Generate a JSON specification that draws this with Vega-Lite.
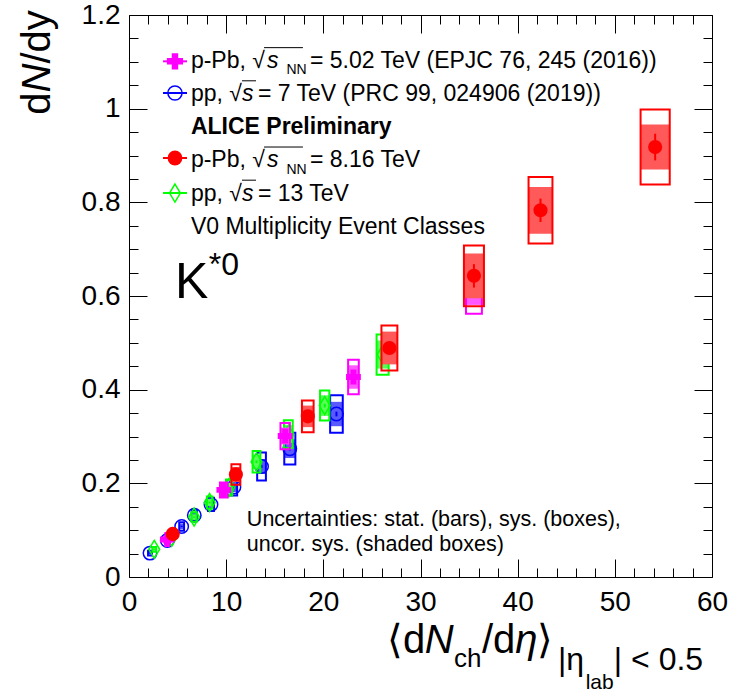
{
"$schema":"https://vega.github.io/schema/vega-lite/v6.json",
"width":583,"height":562,
"autosize":{"type":"none"},
"padding":{"left":129,"top":15,"right":25,"bottom":118},
"config":{"view":{"stroke":null},"axis":{"grid":false}},
"datasets":{
"one":[{}],
"pts":[
{"s":"pp7","x":2.16,"y":0.051,"xl":1.96,"xh":2.36,"sl":0.046,"sh":0.056,"ul":0.048,"uh":0.054,"el":0.050,"eh":0.052},
{"s":"pp7","x":3.94,"y":0.078,"xl":3.72,"xh":4.16,"sl":0.071,"sh":0.085,"ul":0.074,"uh":0.082,"el":0.077,"eh":0.079},
{"s":"pp7","x":5.42,"y":0.108,"xl":5.17,"xh":5.67,"sl":0.099,"sh":0.117,"ul":0.102,"uh":0.114,"el":0.1065,"eh":0.1095},
{"s":"pp7","x":6.72,"y":0.132,"xl":6.45,"xh":6.99,"sl":0.121,"sh":0.143,"ul":0.125,"uh":0.139,"el":0.130,"eh":0.134},
{"s":"pp7","x":8.44,"y":0.155,"xl":8.14,"xh":8.74,"sl":0.141,"sh":0.169,"ul":0.146,"uh":0.164,"el":0.153,"eh":0.157},
{"s":"pp7","x":10.8,"y":0.192,"xl":10.47,"xh":11.13,"sl":0.174,"sh":0.210,"ul":0.181,"uh":0.203,"el":0.189,"eh":0.195},
{"s":"pp7","x":13.64,"y":0.236,"xl":13.19,"xh":14.09,"sl":0.206,"sh":0.266,"ul":0.220,"uh":0.252,"el":0.233,"eh":0.239},
{"s":"pp7","x":16.55,"y":0.274,"xl":15.98,"xh":17.12,"sl":0.240,"sh":0.308,"ul":0.254,"uh":0.294,"el":0.270,"eh":0.278},
{"s":"pp7","x":21.35,"y":0.348,"xl":20.70,"xh":22.00,"sl":0.308,"sh":0.388,"ul":0.322,"uh":0.374,"el":0.343,"eh":0.353},
{"s":"pp13","x":2.6,"y":0.059,"xl":2.4,"xh":2.8,"sl":0.054,"sh":0.064,"ul":0.056,"uh":0.062,"el":0.058,"eh":0.060},
{"s":"pp13","x":4.4,"y":0.085,"xl":4.18,"xh":4.62,"sl":0.078,"sh":0.092,"ul":0.081,"uh":0.089,"el":0.084,"eh":0.086},
{"s":"pp13","x":6.7,"y":0.128,"xl":6.45,"xh":6.95,"sl":0.118,"sh":0.138,"ul":0.122,"uh":0.134,"el":0.1265,"eh":0.1295},
{"s":"pp13","x":8.3,"y":0.159,"xl":8.02,"xh":8.58,"sl":0.146,"sh":0.172,"ul":0.151,"uh":0.167,"el":0.157,"eh":0.161},
{"s":"pp13","x":10.3,"y":0.191,"xl":9.98,"xh":10.62,"sl":0.174,"sh":0.208,"ul":0.181,"uh":0.201,"el":0.189,"eh":0.193},
{"s":"pp13","x":13.12,"y":0.246,"xl":12.72,"xh":13.52,"sl":0.223,"sh":0.269,"ul":0.231,"uh":0.261,"el":0.243,"eh":0.249},
{"s":"pp13","x":16.4,"y":0.305,"xl":15.95,"xh":16.85,"sl":0.2755,"sh":0.3345,"ul":0.286,"uh":0.324,"el":0.302,"eh":0.308},
{"s":"pp13","x":20.14,"y":0.366,"xl":19.66,"xh":20.62,"sl":0.334,"sh":0.398,"ul":0.344,"uh":0.388,"el":0.362,"eh":0.370},
{"s":"pp13","x":26.1,"y":0.475,"xl":25.48,"xh":26.72,"sl":0.432,"sh":0.518,"ul":0.445,"uh":0.505,"el":0.469,"eh":0.481},
{"s":"pPb502","x":3.95,"y":0.080,"xl":3.65,"xh":4.25,"sl":0.073,"sh":0.087,"ul":0.076,"uh":0.084,"el":0.0785,"eh":0.0815},
{"s":"pPb502","x":9.76,"y":0.186,"xl":9.36,"xh":10.16,"sl":0.170,"sh":0.202,"ul":0.176,"uh":0.196,"el":0.183,"eh":0.189},
{"s":"pPb502","x":16.07,"y":0.301,"xl":15.59,"xh":16.55,"sl":0.273,"sh":0.329,"ul":0.283,"uh":0.319,"el":0.297,"eh":0.305},
{"s":"pPb502","x":23.1,"y":0.427,"xl":22.55,"xh":23.65,"sl":0.390,"sh":0.464,"ul":0.402,"uh":0.452,"el":0.421,"eh":0.433},
{"s":"pPb502","x":35.5,"y":0.616,"xl":34.68,"xh":36.32,"sl":0.562,"sh":0.670,"ul":0.581,"uh":0.651,"el":0.606,"eh":0.626},
{"s":"pPb816","x":4.5,"y":0.092,"xl":4.15,"xh":4.85,"sl":0.084,"sh":0.100,"ul":0.087,"uh":0.097,"el":0.089,"eh":0.095},
{"s":"pPb816","x":11.0,"y":0.219,"xl":10.54,"xh":11.46,"sl":0.197,"sh":0.241,"ul":0.203,"uh":0.235,"el":0.213,"eh":0.225},
{"s":"pPb816","x":18.4,"y":0.343,"xl":17.8,"xh":19.0,"sl":0.309,"sh":0.377,"ul":0.320,"uh":0.366,"el":0.333,"eh":0.353},
{"s":"pPb816","x":26.8,"y":0.489,"xl":25.98,"xh":27.62,"sl":0.441,"sh":0.537,"ul":0.454,"uh":0.524,"el":0.477,"eh":0.501},
{"s":"pPb816","x":35.5,"y":0.643,"xl":34.47,"xh":36.53,"sl":0.578,"sh":0.708,"ul":0.595,"uh":0.691,"el":0.618,"eh":0.668},
{"s":"pPb816","x":42.35,"y":0.783,"xl":41.12,"xh":43.58,"sl":0.712,"sh":0.854,"ul":0.733,"uh":0.833,"el":0.758,"eh":0.808},
{"s":"pPb816","x":54.15,"y":0.918,"xl":52.65,"xh":55.65,"sl":0.838,"sh":0.998,"ul":0.870,"uh":0.966,"el":0.8895,"eh":0.9465}
]},
"resolve":{"axis":{"x":"independent","y":"independent"}},
"layer":[
{"data":{"name":"pts"},
 "layer":[
  {"mark":{"type":"point","opacity":0},
   "encoding":{
    "x":{"field":"x","type":"quantitative","scale":{"domain":[0,60],"nice":false,"zero":false},
      "axis":{"orient":"bottom","title":null,"values":[0,10,20,30,40,50,60],"format":"d","ticks":false,
        "domainColor":"black","domainWidth":1,
        "labelFont":"Liberation Sans","labelFontSize":28,"labelColor":"black","labelPadding":11,"labelFlush":false,"labelOverlap":false}},
    "y":{"field":"y","type":"quantitative","scale":{"domain":[0,1.2],"nice":false,"zero":false},
      "axis":{"orient":"left","title":null,"values":[0,0.2,0.4,0.6,0.8,1,1.2],"format":"~g","ticks":false,
        "domainColor":"black","domainWidth":1,
        "labelFont":"Liberation Sans","labelFontSize":28,"labelColor":"black","labelPadding":9,"labelFlush":false,"labelOverlap":false}}}},
  {"transform":[{"filter":"datum.s === 'pp7'"}],"layer":[
   {"mark":{"type":"rect","color":"#5959ff","opacity":1},"encoding":{"x":{"field":"xl","type":"quantitative"},"x2":{"field":"xh"},"y":{"field":"ul","type":"quantitative"},"y2":{"field":"uh"}}},
   {"mark":{"type":"rect","filled":false,"color":"#0000ff","strokeWidth":2},"encoding":{"x":{"field":"xl","type":"quantitative"},"x2":{"field":"xh"},"y":{"field":"sl","type":"quantitative"},"y2":{"field":"sh"}}},
   {"mark":{"type":"rule","color":"#0000ff","strokeWidth":2},"encoding":{"x":{"field":"x","type":"quantitative"},"y":{"field":"el","type":"quantitative"},"y2":{"field":"eh"}}},
   {"mark":{"type":"point","shape":"circle","filled":false,"color":"#0000ff","strokeWidth":1.5,"size":180,"opacity":1},"encoding":{"x":{"field":"x","type":"quantitative"},"y":{"field":"y","type":"quantitative"}}}
  ]},
  {"transform":[{"filter":"datum.s === 'pp13'"}],"layer":[
   {"mark":{"type":"rect","color":"#59ff59","opacity":1},"encoding":{"x":{"field":"xl","type":"quantitative"},"x2":{"field":"xh"},"y":{"field":"ul","type":"quantitative"},"y2":{"field":"uh"}}},
   {"mark":{"type":"rect","filled":false,"color":"#00ff00","strokeWidth":2},"encoding":{"x":{"field":"xl","type":"quantitative"},"x2":{"field":"xh"},"y":{"field":"sl","type":"quantitative"},"y2":{"field":"sh"}}},
   {"mark":{"type":"rule","color":"#00ff00","strokeWidth":2},"encoding":{"x":{"field":"x","type":"quantitative"},"y":{"field":"el","type":"quantitative"},"y2":{"field":"eh"}}},
   {"mark":{"type":"point","shape":"M0,-1L0.6,0L0,1L-0.6,0Z","filled":false,"color":"#00ff00","strokeWidth":1.5,"size":324,"opacity":1},"encoding":{"x":{"field":"x","type":"quantitative"},"y":{"field":"y","type":"quantitative"}}}
  ]},
  {"transform":[{"filter":"datum.s === 'pPb502'"}],"layer":[
   {"mark":{"type":"rect","color":"#ff59ff","opacity":1},"encoding":{"x":{"field":"xl","type":"quantitative"},"x2":{"field":"xh"},"y":{"field":"ul","type":"quantitative"},"y2":{"field":"uh"}}},
   {"mark":{"type":"rect","filled":false,"color":"#ff00ff","strokeWidth":2},"encoding":{"x":{"field":"xl","type":"quantitative"},"x2":{"field":"xh"},"y":{"field":"sl","type":"quantitative"},"y2":{"field":"sh"}}},
   {"mark":{"type":"rule","color":"#ff00ff","strokeWidth":2},"encoding":{"x":{"field":"x","type":"quantitative"},"y":{"field":"el","type":"quantitative"},"y2":{"field":"eh"}}},
   {"mark":{"type":"point","shape":"cross","filled":true,"color":"#ff00ff","size":220,"opacity":1},"encoding":{"x":{"field":"x","type":"quantitative"},"y":{"field":"y","type":"quantitative"}}}
  ]},
  {"transform":[{"filter":"datum.s === 'pPb816'"}],"layer":[
   {"mark":{"type":"rect","color":"#ff5959","opacity":1},"encoding":{"x":{"field":"xl","type":"quantitative"},"x2":{"field":"xh"},"y":{"field":"ul","type":"quantitative"},"y2":{"field":"uh"}}},
   {"mark":{"type":"rect","filled":false,"color":"#ff0000","strokeWidth":2},"encoding":{"x":{"field":"xl","type":"quantitative"},"x2":{"field":"xh"},"y":{"field":"sl","type":"quantitative"},"y2":{"field":"sh"}}},
   {"mark":{"type":"rule","color":"#ff0000","strokeWidth":2},"encoding":{"x":{"field":"x","type":"quantitative"},"y":{"field":"el","type":"quantitative"},"y2":{"field":"eh"}}},
   {"mark":{"type":"point","shape":"circle","filled":true,"color":"#ff0000","size":200,"opacity":1},"encoding":{"x":{"field":"x","type":"quantitative"},"y":{"field":"y","type":"quantitative"}}}
  ]},
  {"data":{"name":"one"},"mark":{"type":"rule","color":"#ff00ff","strokeWidth":2},"encoding":{"x":{"datum":3.5,"type":"quantitative"},"x2":{"datum":5.97},"y":{"datum":1.1011,"type":"quantitative"}}},
  {"data":{"name":"one"},"mark":{"type":"point","shape":"cross","filled":true,"color":"#ff00ff","size":260,"opacity":1},"encoding":{"x":{"datum":4.73,"type":"quantitative"},"y":{"datum":1.1011,"type":"quantitative"}}},
  {"data":{"name":"one"},"mark":{"type":"rule","color":"#0000ff","strokeWidth":2},"encoding":{"x":{"datum":3.5,"type":"quantitative"},"x2":{"datum":5.97},"y":{"datum":1.0335,"type":"quantitative"}}},
  {"data":{"name":"one"},"mark":{"type":"point","shape":"circle","filled":false,"color":"#0000ff","strokeWidth":1.5,"size":200,"opacity":1},"encoding":{"x":{"datum":4.73,"type":"quantitative"},"y":{"datum":1.0335,"type":"quantitative"}}},
  {"data":{"name":"one"},"mark":{"type":"rule","color":"#ff0000","strokeWidth":2},"encoding":{"x":{"datum":3.5,"type":"quantitative"},"x2":{"datum":5.97},"y":{"datum":0.8947,"type":"quantitative"}}},
  {"data":{"name":"one"},"mark":{"type":"point","shape":"circle","filled":true,"color":"#ff0000","size":220,"opacity":1},"encoding":{"x":{"datum":4.73,"type":"quantitative"},"y":{"datum":0.8947,"type":"quantitative"}}},
  {"data":{"name":"one"},"mark":{"type":"rule","color":"#00ff00","strokeWidth":2},"encoding":{"x":{"datum":3.5,"type":"quantitative"},"x2":{"datum":5.97},"y":{"datum":0.8199,"type":"quantitative"}}},
  {"data":{"name":"one"},"mark":{"type":"point","shape":"M0,-1L0.6,0L0,1L-0.6,0Z","filled":false,"color":"#00ff00","strokeWidth":1.5,"size":324,"opacity":1},"encoding":{"x":{"datum":4.73,"type":"quantitative"},"y":{"datum":0.8199,"type":"quantitative"}}},
  {"data":{"name":"one"},"mark":{"type":"text","text":"p-Pb, √","font":"Liberation Sans","fontSize":23,"align":"left","baseline":"alphabetic","color":"black"},"encoding":{"x":{"datum":6.37,"type":"quantitative"},"y":{"datum":1.0866,"type":"quantitative"}}},
  {"data":{"name":"one"},"mark":{"type":"text","text":"s","font":"Liberation Sans","fontStyle":"italic","fontSize":23,"align":"left","baseline":"alphabetic","color":"black"},"encoding":{"x":{"datum":14.2,"type":"quantitative"},"y":{"datum":1.0866,"type":"quantitative"}}},
  {"data":{"name":"one"},"mark":{"type":"text","text":"NN","font":"Liberation Sans","fontSize":14,"align":"left","baseline":"alphabetic","color":"black"},"encoding":{"x":{"datum":16.2,"type":"quantitative"},"y":{"datum":1.0737,"type":"quantitative"}}},
  {"data":{"name":"one"},"mark":{"type":"text","text":"= 5.02 TeV (EPJC 76, 245 (2016))","font":"Liberation Sans","fontSize":23,"align":"left","baseline":"alphabetic","color":"black"},"encoding":{"x":{"datum":18.62,"type":"quantitative"},"y":{"datum":1.0866,"type":"quantitative"}}},
  {"data":{"name":"one"},"mark":{"type":"text","text":"pp, √","font":"Liberation Sans","fontSize":23,"align":"left","baseline":"alphabetic","color":"black"},"encoding":{"x":{"datum":6.37,"type":"quantitative"},"y":{"datum":1.0158,"type":"quantitative"}}},
  {"data":{"name":"one"},"mark":{"type":"text","text":"s","font":"Liberation Sans","fontStyle":"italic","fontSize":23,"align":"left","baseline":"alphabetic","color":"black"},"encoding":{"x":{"datum":11.63,"type":"quantitative"},"y":{"datum":1.0158,"type":"quantitative"}}},
  {"data":{"name":"one"},"mark":{"type":"text","text":"= 7 TeV (PRC 99, 024906 (2019))","font":"Liberation Sans","fontSize":23,"align":"left","baseline":"alphabetic","color":"black"},"encoding":{"x":{"datum":13.27,"type":"quantitative"},"y":{"datum":1.0158,"type":"quantitative"}}},
  {"data":{"name":"one"},"mark":{"type":"text","text":"ALICE Preliminary","font":"Liberation Sans","fontWeight":"bold","fontSize":23,"align":"left","baseline":"alphabetic","color":"black"},"encoding":{"x":{"datum":6.37,"type":"quantitative"},"y":{"datum":0.9451,"type":"quantitative"}}},
  {"data":{"name":"one"},"mark":{"type":"text","text":"p-Pb, √","font":"Liberation Sans","fontSize":23,"align":"left","baseline":"alphabetic","color":"black"},"encoding":{"x":{"datum":6.37,"type":"quantitative"},"y":{"datum":0.8744,"type":"quantitative"}}},
  {"data":{"name":"one"},"mark":{"type":"text","text":"s","font":"Liberation Sans","fontStyle":"italic","fontSize":23,"align":"left","baseline":"alphabetic","color":"black"},"encoding":{"x":{"datum":14.2,"type":"quantitative"},"y":{"datum":0.8744,"type":"quantitative"}}},
  {"data":{"name":"one"},"mark":{"type":"text","text":"NN","font":"Liberation Sans","fontSize":14,"align":"left","baseline":"alphabetic","color":"black"},"encoding":{"x":{"datum":16.2,"type":"quantitative"},"y":{"datum":0.8615,"type":"quantitative"}}},
  {"data":{"name":"one"},"mark":{"type":"text","text":"= 8.16 TeV","font":"Liberation Sans","fontSize":23,"align":"left","baseline":"alphabetic","color":"black"},"encoding":{"x":{"datum":18.62,"type":"quantitative"},"y":{"datum":0.8744,"type":"quantitative"}}},
  {"data":{"name":"one"},"mark":{"type":"text","text":"pp, √","font":"Liberation Sans","fontSize":23,"align":"left","baseline":"alphabetic","color":"black"},"encoding":{"x":{"datum":6.37,"type":"quantitative"},"y":{"datum":0.8036,"type":"quantitative"}}},
  {"data":{"name":"one"},"mark":{"type":"text","text":"s","font":"Liberation Sans","fontStyle":"italic","fontSize":23,"align":"left","baseline":"alphabetic","color":"black"},"encoding":{"x":{"datum":11.63,"type":"quantitative"},"y":{"datum":0.8036,"type":"quantitative"}}},
  {"data":{"name":"one"},"mark":{"type":"text","text":"= 13 TeV","font":"Liberation Sans","fontSize":23,"align":"left","baseline":"alphabetic","color":"black"},"encoding":{"x":{"datum":13.27,"type":"quantitative"},"y":{"datum":0.8036,"type":"quantitative"}}},
  {"data":{"name":"one"},"mark":{"type":"text","text":"V0 Multiplicity Event Classes","font":"Liberation Sans","fontSize":23,"align":"left","baseline":"alphabetic","color":"black"},"encoding":{"x":{"datum":6.37,"type":"quantitative"},"y":{"datum":0.733,"type":"quantitative"}}},
  {"data":{"name":"one"},"mark":{"type":"rule","color":"black","strokeWidth":1},"encoding":{"x":{"datum":13.9,"type":"quantitative"},"x2":{"datum":17.9},"y":{"datum":1.1303,"type":"quantitative"}}},
  {"data":{"name":"one"},"mark":{"type":"rule","color":"black","strokeWidth":1},"encoding":{"x":{"datum":13.9,"type":"quantitative"},"x2":{"datum":17.9},"y":{"datum":0.9181,"type":"quantitative"}}},
  {"data":{"name":"one"},"mark":{"type":"rule","color":"black","strokeWidth":1},"encoding":{"x":{"datum":11.63,"type":"quantitative"},"x2":{"datum":13.07},"y":{"datum":1.0595,"type":"quantitative"}}},
  {"data":{"name":"one"},"mark":{"type":"rule","color":"black","strokeWidth":1},"encoding":{"x":{"datum":11.63,"type":"quantitative"},"x2":{"datum":13.07},"y":{"datum":0.8473,"type":"quantitative"}}},
  {"data":{"name":"one"},"mark":{"type":"text","text":"K","font":"Liberation Sans","fontSize":50,"align":"left","baseline":"alphabetic","color":"black"},"encoding":{"x":{"datum":4.73,"type":"quantitative"},"y":{"datum":0.596,"type":"quantitative"}}},
  {"data":{"name":"one"},"mark":{"type":"text","text":"*0","font":"Liberation Sans","fontSize":32,"align":"left","baseline":"alphabetic","color":"black"},"encoding":{"x":{"datum":8.22,"type":"quantitative"},"y":{"datum":0.645,"type":"quantitative"}}},
  {"data":{"name":"one"},"mark":{"type":"text","text":"Uncertainties: stat. (bars), sys. (boxes),","font":"Liberation Sans","fontSize":21.5,"align":"left","baseline":"alphabetic","color":"black"},"encoding":{"x":{"datum":12.13,"type":"quantitative"},"y":{"datum":0.109,"type":"quantitative"}}},
  {"data":{"name":"one"},"mark":{"type":"text","text":"uncor. sys. (shaded boxes)","font":"Liberation Sans","fontSize":21.5,"align":"left","baseline":"alphabetic","color":"black"},"encoding":{"x":{"datum":12.13,"type":"quantitative"},"y":{"datum":0.0556,"type":"quantitative"}}},
  {"data":{"name":"one"},"mark":{"type":"text","text":"d","angle":270,"font":"Liberation Sans","fontSize":40,"align":"left","baseline":"alphabetic","color":"black"},"encoding":{"x":{"datum":-8.13,"type":"quantitative"},"y":{"datum":0.9872,"type":"quantitative"}}},
  {"data":{"name":"one"},"mark":{"type":"text","text":"N","angle":270,"font":"Liberation Sans","fontStyle":"italic","fontSize":40,"align":"left","baseline":"alphabetic","color":"black"},"encoding":{"x":{"datum":-8.13,"type":"quantitative"},"y":{"datum":1.0346,"type":"quantitative"}}},
  {"data":{"name":"one"},"mark":{"type":"text","text":"/dy","angle":270,"font":"Liberation Sans","fontSize":40,"align":"left","baseline":"alphabetic","color":"black"},"encoding":{"x":{"datum":-8.13,"type":"quantitative"},"y":{"datum":1.0964,"type":"quantitative"}}},
  {"data":{"name":"one"},"mark":{"type":"text","text":"⟨d","font":"Liberation Sans","fontSize":40,"align":"left","baseline":"alphabetic","color":"black"},"encoding":{"x":{"datum":26.54,"type":"quantitative"},"y":{"datum":-0.1624,"type":"quantitative"}}},
  {"data":{"name":"one"},"mark":{"type":"text","text":"N","font":"Liberation Sans","fontStyle":"italic","fontSize":40,"align":"left","baseline":"alphabetic","color":"black"},"encoding":{"x":{"datum":30.45,"type":"quantitative"},"y":{"datum":-0.1624,"type":"quantitative"}}},
  {"data":{"name":"one"},"mark":{"type":"text","text":"ch","font":"Liberation Sans","fontSize":26,"align":"left","baseline":"alphabetic","color":"black"},"encoding":{"x":{"datum":33.44,"type":"quantitative"},"y":{"datum":-0.1923,"type":"quantitative"}}},
  {"data":{"name":"one"},"mark":{"type":"text","text":"/d","font":"Liberation Sans","fontSize":40,"align":"left","baseline":"alphabetic","color":"black"},"encoding":{"x":{"datum":36.32,"type":"quantitative"},"y":{"datum":-0.1624,"type":"quantitative"}}},
  {"data":{"name":"one"},"mark":{"type":"text","text":"η","font":"Liberation Sans","fontStyle":"italic","fontSize":40,"align":"left","baseline":"alphabetic","color":"black"},"encoding":{"x":{"datum":39.74,"type":"quantitative"},"y":{"datum":-0.1624,"type":"quantitative"}}},
  {"data":{"name":"one"},"mark":{"type":"text","text":"⟩","font":"Liberation Sans","fontSize":40,"align":"left","baseline":"alphabetic","color":"black"},"encoding":{"x":{"datum":42.03,"type":"quantitative"},"y":{"datum":-0.1624,"type":"quantitative"}}},
  {"data":{"name":"one"},"mark":{"type":"text","text":"|η","font":"Liberation Sans","fontSize":32,"align":"left","baseline":"alphabetic","color":"black"},"encoding":{"x":{"datum":44.14,"type":"quantitative"},"y":{"datum":-0.1987,"type":"quantitative"}}},
  {"data":{"name":"one"},"mark":{"type":"text","text":"lab","font":"Liberation Sans","fontSize":21,"align":"left","baseline":"alphabetic","color":"black"},"encoding":{"x":{"datum":47.0,"type":"quantitative"},"y":{"datum":-0.2393,"type":"quantitative"}}},
  {"data":{"name":"one"},"mark":{"type":"text","text":"| < 0.5","font":"Liberation Sans","fontSize":32,"align":"left","baseline":"alphabetic","color":"black"},"encoding":{"x":{"datum":49.9,"type":"quantitative"},"y":{"datum":-0.1987,"type":"quantitative"}}}
 ]},
{"data":{"name":"pts"},"mark":{"type":"point","opacity":0},
 "encoding":{
  "x":{"field":"x","type":"quantitative",
    "axis":{"orient":"top","offset":-562,"title":null,"labels":false,"domain":false,"ticks":true,"values":[0,10,20,30,40,50,60],"tickSize":18,"tickColor":"black","tickWidth":1,"tickOpacity":1}},
  "y":{"field":"y","type":"quantitative",
    "axis":{"orient":"right","offset":-583,"title":null,"labels":false,"domain":false,"ticks":true,"values":[0,0.2,0.4,0.6,0.8,1,1.2],"tickSize":18,"tickColor":"black","tickWidth":1,"tickOpacity":1}}}},
{"data":{"name":"pts"},"mark":{"type":"point","opacity":0},
 "encoding":{
  "x":{"field":"x","type":"quantitative",
    "axis":{"orient":"top","offset":-562,"title":null,"labels":false,"domain":false,"ticks":true,"values":[2,4,6,8,12,14,16,18,22,24,26,28,32,34,36,38,42,44,46,48,52,54,56,58],"tickSize":9,"tickColor":"black","tickWidth":1,"tickOpacity":1}},
  "y":{"field":"y","type":"quantitative",
    "axis":{"orient":"right","offset":-583,"title":null,"labels":false,"domain":false,"ticks":true,"values":[0.05,0.1,0.15,0.25,0.3,0.35,0.45,0.5,0.55,0.65,0.7,0.75,0.85,0.9,0.95,1.05,1.1,1.15],"tickSize":9,"tickColor":"black","tickWidth":1,"tickOpacity":1}}}},
{"data":{"name":"pts"},"mark":{"type":"point","opacity":0},
 "encoding":{
  "x":{"field":"x","type":"quantitative",
    "axis":{"orient":"bottom","offset":-562,"title":null,"labels":false,"domain":true,"domainColor":"black","domainWidth":1,"ticks":true,"values":[0,10,20,30,40,50,60],"tickSize":18,"tickColor":"black","tickWidth":1,"tickOpacity":1}},
  "y":{"field":"y","type":"quantitative",
    "axis":{"orient":"left","offset":-583,"title":null,"labels":false,"domain":true,"domainColor":"black","domainWidth":1,"ticks":true,"values":[0,0.2,0.4,0.6,0.8,1,1.2],"tickSize":18,"tickColor":"black","tickWidth":1,"tickOpacity":1}}}},
{"data":{"name":"pts"},"mark":{"type":"point","opacity":0},
 "encoding":{
  "x":{"field":"x","type":"quantitative",
    "axis":{"orient":"bottom","offset":-562,"title":null,"labels":false,"domain":false,"ticks":true,"values":[2,4,6,8,12,14,16,18,22,24,26,28,32,34,36,38,42,44,46,48,52,54,56,58],"tickSize":9,"tickColor":"black","tickWidth":1,"tickOpacity":1}},
  "y":{"field":"y","type":"quantitative",
    "axis":{"orient":"left","offset":-583,"title":null,"labels":false,"domain":false,"ticks":true,"values":[0.05,0.1,0.15,0.25,0.3,0.35,0.45,0.5,0.55,0.65,0.7,0.75,0.85,0.9,0.95,1.05,1.1,1.15],"tickSize":9,"tickColor":"black","tickWidth":1,"tickOpacity":1}}}}
]
}
